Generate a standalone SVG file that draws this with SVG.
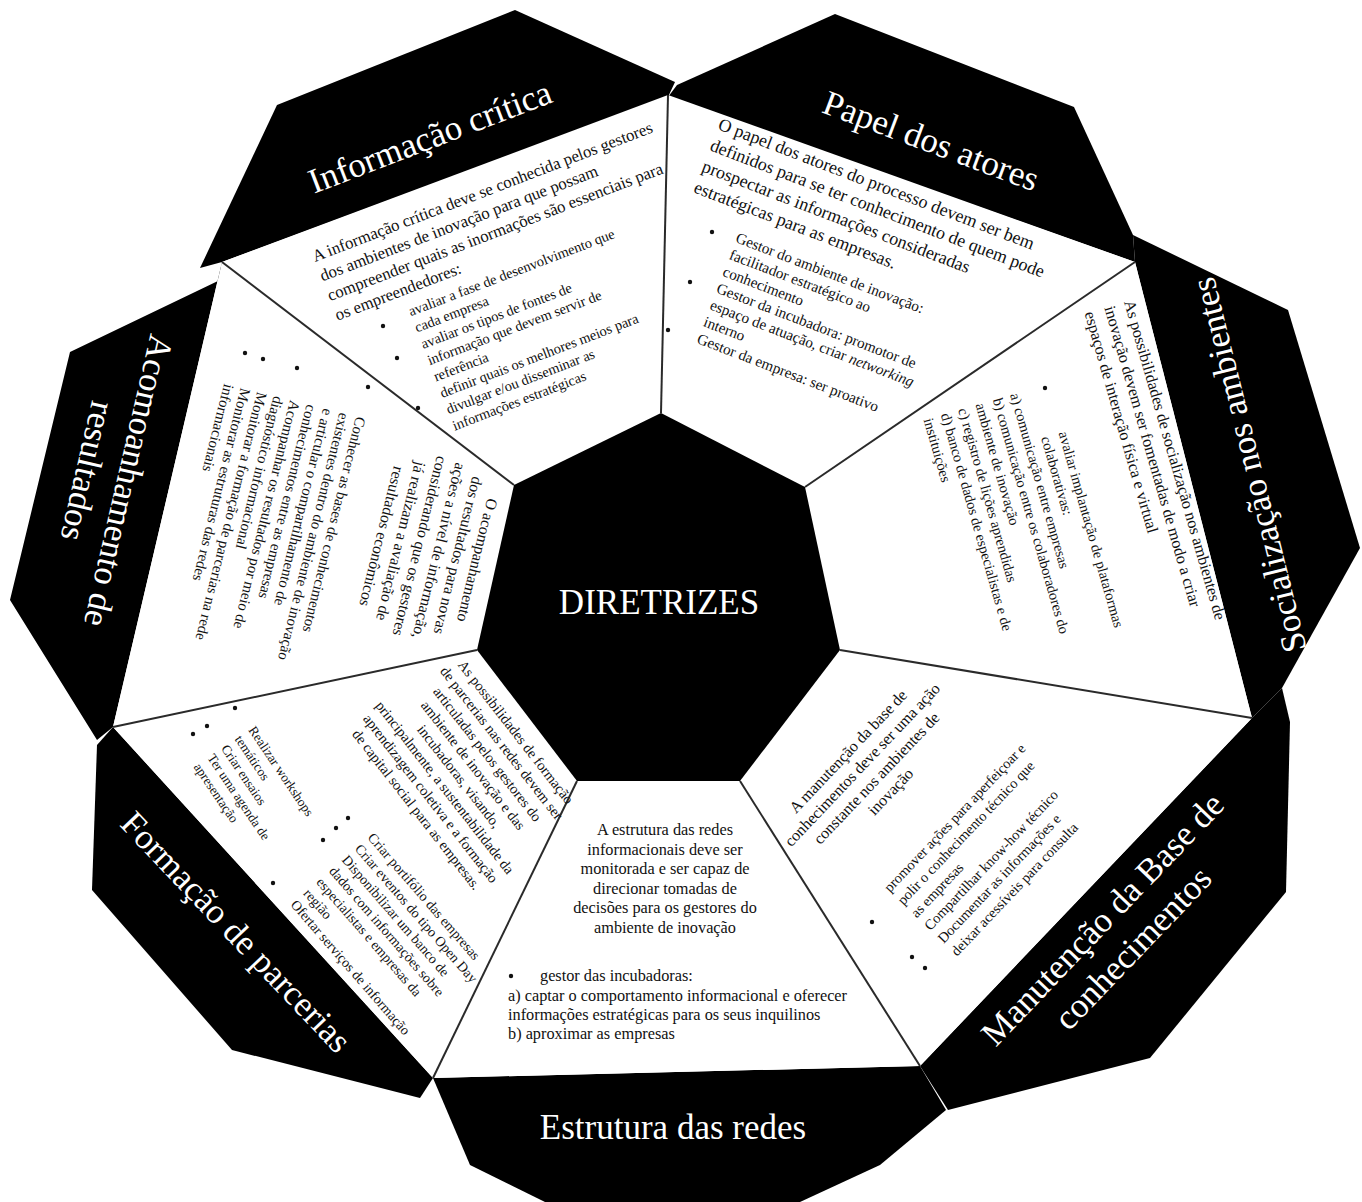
<svg xmlns="http://www.w3.org/2000/svg" width="1362" height="1202" viewBox="0 0 1362 1202">
  <style>
    .blk { fill: #000; }
    .seg { fill: #fff; }
    .div { stroke: #2a2a2a; stroke-width: 2; fill: none; }
    .ttl { font-family: "Liberation Serif", "Times New Roman", serif; fill: #fff; font-size: 35px; text-anchor: middle; dominant-baseline: central; }
    .txt { font-family: "Liberation Serif", "Times New Roman", serif; fill: #111; }
    .mid { text-anchor: middle; }
    .dot { fill: #111; }
  </style>
  <rect width="1362" height="1202" fill="#fff"/>

  <!-- outer black title plates -->
  <g id="plates">
    <polygon class="blk" points="222,262 200,268 277,105 515,10 675,82 668,97"/>
    <polygon class="blk" points="668,97 677,85 835,14 1074,107 1133,235 1135,262"/>
    <polygon class="blk" points="1135,262 1133,235 1288,310 1360,548 1282,688 1252,718"/>
    <polygon class="blk" points="1252,718 1282,688 1290,722 1286,892 1150,1058 948,1110 920,1066"/>
    <polygon class="blk" points="433,1078 920,1066 946,1110 880,1165 800,1202 545,1202 470,1165"/>
    <polygon class="blk" points="113,727 97,745 92,890 232,1050 420,1098 433,1078"/>
    <polygon class="blk" points="222,262 220,280 70,352 10,600 97,740 113,727"/>
  </g>

  <!-- white ring segments -->
  <polygon class="seg" points="668,95 1135,262 1252,718 920,1066 433,1078 113,727 222,262"/>

  <g id="dividers">
    <line class="div" x1="661" y1="413" x2="668" y2="95"/>
    <line class="div" x1="805" y1="487" x2="1135" y2="262"/>
    <line class="div" x1="840" y1="650" x2="1252" y2="718"/>
    <line class="div" x1="740" y1="781" x2="920" y2="1066"/>
    <line class="div" x1="577" y1="781" x2="433" y2="1078"/>
    <line class="div" x1="477" y1="650" x2="113" y2="727"/>
    <line class="div" x1="514" y1="485" x2="222" y2="262"/>
  </g>

  <g id="centre">
    <polygon class="blk" points="661,413 805,487 840,650 740,781 577,781 477,650 514,485"/>
    <text x="659" y="602" class="ttl" font-size="42">DIRETRIZES</text>
  </g>

  <!-- Informação crítica -->
  <g id="informacao-critica">
    <text class="ttl" transform="translate(430,137) rotate(-21)" font-size="34">Informação crítica</text>
    <g class="txt" transform="translate(315,262) rotate(-21)">
      <g font-size="16.8">
        <text x="0" y="0">A informação crítica deve se conhecida pelos gestores</text>
        <text x="0" y="21">dos ambientes de inovação para que possam</text>
        <text x="0" y="42">compreender quais as inormações são essenciais para</text>
        <text x="0" y="63">os empreendedores:</text>
      </g>
      <g font-size="14.4">
        <text x="70" y="85">avaliar a fase de desenvolvimento que</text>
        <text x="70" y="102.5">cada empresa</text>
        <text x="70" y="120">avaliar os tipos de fontes de</text>
        <text x="70" y="137.5">informação que devem servir de</text>
        <text x="70" y="155">referência</text>
        <text x="70" y="172.5">definir quais os melhores meios para</text>
        <text x="70" y="190">divulgar e/ou disseminar as</text>
        <text x="70" y="207.5">informações estratégicas</text>
      </g>
    </g>
    <circle class="dot" cx="383" cy="326" r="2.2"/>
    <circle class="dot" cx="397" cy="358" r="2.2"/>
    <circle class="dot" cx="418" cy="408" r="2.2"/>
  </g>

  <!-- Papel dos atores -->
  <g id="papel-dos-atores">
    <text class="ttl" transform="translate(931,141) rotate(20.5)" font-size="35">Papel dos atores</text>
    <g class="txt" transform="translate(717,129) rotate(21)">
      <g font-size="18">
        <text x="0" y="0">O papel dos atores do processo devem ser bem</text>
        <text x="0" y="22.5">definidos para se ter conhecimento de quem pode</text>
        <text x="0" y="45">prospectar as informações consideradas</text>
        <text x="0" y="67.5">estratégicas para as empresas.</text>
      </g>
      <g font-size="15.2">
        <text x="57" y="99">Gestor do ambiente de inovação:</text>
        <text x="57" y="117">facilitador estratégico ao</text>
        <text x="57" y="135">conhecimento</text>
        <text x="57" y="153">Gestor da incubadora: promotor de</text>
        <text x="57" y="171">espaço de atuação, criar <tspan font-style="italic">networking</tspan></text>
        <text x="57" y="189">interno</text>
        <text x="57" y="207">Gestor da empresa: ser proativo</text>
      </g>
    </g>
    <circle class="dot" cx="712" cy="232" r="2.2"/>
    <circle class="dot" cx="690" cy="282" r="2.2"/>
    <circle class="dot" cx="668" cy="330" r="2.2"/>
  </g>

  <!-- Socialização nos ambientes -->
  <g id="socializacao">
    <text class="ttl" transform="translate(1249,465) rotate(-104)" font-size="34">Socialização nos ambientes</text>
    <g class="txt" font-size="16.2" transform="translate(1124,302) rotate(74)">
      <text x="0" y="0">As possibilidades de socialização nos ambientes de</text>
      <text x="0" y="20.5">inovação devem ser fomentadas de modo a criar</text>
      <text x="0" y="41">espaços de interação física e virtual</text>
    </g>
    <g class="txt" font-size="14.5" transform="translate(1122,292) rotate(74)">
      <text x="118" y="100">avaliar implantação de plataformas</text>
      <text x="118" y="118">colaborativas:</text>
      <text x="68" y="136">a) comunicação entre empresas</text>
      <text x="68" y="154">b) comunicação entre os colaboradores do</text>
      <text x="68" y="172">ambiente de inovação</text>
      <text x="68" y="190">c) registro de lições aprendidas</text>
      <text x="68" y="208">d) banco de dados de especialistas e de</text>
      <text x="68" y="226">instituições</text>
    </g>
    <circle class="dot" cx="1045" cy="388" r="2.2"/>
  </g>

  <!-- Manutenção da Base de conhecimentos -->
  <g id="manutencao">
    <g transform="translate(1117,933) rotate(-46.3)">
      <text class="ttl" x="0" y="-20" font-size="34">Manutenção da Base de</text>
      <text class="ttl" x="0" y="22" font-size="34">conhecimentos</text>
    </g>
    <g class="txt mid" font-size="16" transform="translate(852,755) rotate(-46.5)">
      <text x="0" y="0">A manutenção da base de</text>
      <text x="0" y="19.5">conhecimentos deve ser uma ação</text>
      <text x="0" y="39">constante nos ambientes de</text>
      <text x="0" y="58.5">inovação</text>
    </g>
    <g class="txt" font-size="14.4" transform="translate(890,893) rotate(-46.5)">
      <text x="0" y="0">promover ações para aperfeiçoar e</text>
      <text x="0" y="18.5">polir o conhecimento técnico que</text>
      <text x="0" y="37">as empresas</text>
      <text x="0" y="55.5">Compartilhar know-how técnico</text>
      <text x="0" y="74">Documentar as informações e</text>
      <text x="0" y="92.5">deixar acessíveis para consulta</text>
    </g>
    <circle class="dot" cx="872" cy="922" r="2.2"/>
    <circle class="dot" cx="912" cy="957" r="2.2"/>
    <circle class="dot" cx="925" cy="968" r="2.2"/>
  </g>

  <!-- Estrutura das redes -->
  <g id="estrutura">
    <text class="ttl" x="673" y="1127" font-size="35">Estrutura das redes</text>
    <g class="txt mid" font-size="16.3">
      <text x="665" y="835">A estrutura das redes</text>
      <text x="665" y="854.5">informacionais deve ser</text>
      <text x="665" y="874">monitorada e ser capaz de</text>
      <text x="665" y="893.5">direcionar tomadas de</text>
      <text x="665" y="913">decisões para os gestores do</text>
      <text x="665" y="932.5">ambiente de inovação</text>
    </g>
    <circle class="dot" cx="511" cy="976" r="2.2"/>
    <g class="txt" font-size="16.3">
      <text x="540" y="981">gestor das incubadoras:</text>
      <text x="508" y="1000.5">a) captar o comportamento informacional e oferecer</text>
      <text x="508" y="1019.5">informações estratégicas para os seus inquilinos</text>
      <text x="508" y="1038.5">b) aproximar as empresas</text>
    </g>
  </g>

  <!-- Formação de parcerias -->
  <g id="formacao">
    <text class="ttl" transform="translate(236,932) rotate(46.5)" font-size="35">Formação de parcerias</text>
    <g class="txt mid" font-size="14.5" transform="translate(512,735) rotate(52)">
      <text x="0" y="0">As possibilidades de formação</text>
      <text x="0" y="18">de parcerias nas redes devem ser</text>
      <text x="0" y="36">articuladas pelos gestores do</text>
      <text x="0" y="54">ambiente de inovação e das</text>
      <text x="0" y="72">incubadoras, visando,</text>
      <text x="0" y="90">principalmente, a sustentabilidade da</text>
      <text x="0" y="108">aprendizagem coletiva e a formação</text>
      <text x="0" y="126">de capital social para as empresas.</text>
    </g>
    <g class="txt" font-size="13.3" transform="translate(248,730) rotate(56)">
      <text x="0" y="0">Realizar workshops</text>
      <text x="0" y="16.5">temáticos</text>
      <text x="0" y="33">Criar ensaios</text>
      <text x="0" y="49.5">Ter uma agenda de</text>
      <text x="0" y="66">apresentação</text>
    </g>
    <g class="txt" font-size="14" transform="translate(367,838) rotate(49)">
      <text x="0" y="0">Criar portifólio das empresas</text>
      <text x="0" y="17">Criar eventos do tipo Open Day</text>
      <text x="0" y="34">Disponibilizar um banco de</text>
      <text x="0" y="51">dados com informações sobre</text>
      <text x="0" y="68">especialistas e empresas da</text>
      <text x="0" y="85">região</text>
      <text x="0" y="102">Ofertar serviços de informação</text>
    </g>
    <circle class="dot" cx="235" cy="708" r="2.2"/>
    <circle class="dot" cx="207" cy="726" r="2.2"/>
    <circle class="dot" cx="193" cy="734" r="2.2"/>
    <circle class="dot" cx="348" cy="818" r="2.2"/>
    <circle class="dot" cx="336" cy="828" r="2.2"/>
    <circle class="dot" cx="323" cy="840" r="2.2"/>
    <circle class="dot" cx="273" cy="883" r="2.2"/>
  </g>

  <!-- Acompanhamento de resultados -->
  <g id="acompanhamento">
    <g transform="translate(108,476) rotate(103)">
      <text class="ttl" x="0" y="-21" font-size="35">Acomoanhamento de</text>
      <text class="ttl" x="0" y="21" font-size="35">resultados</text>
    </g>
    <g class="txt mid" font-size="15.8" transform="translate(476,560) rotate(104)">
      <text x="0" y="4">O acompanhamento</text>
      <text x="0" y="23.7">dos resultados para novas</text>
      <text x="0" y="43.4">ações a nível de informação,</text>
      <text x="0" y="63.1">considerando que os gestores</text>
      <text x="0" y="82.8">já realizam a avaliação de</text>
      <text x="0" y="102.5">resultados econômicos</text>
    </g>
    <g class="txt" font-size="15" transform="translate(360,417) rotate(104)">
      <text x="0" y="4">Conhecer as bases de conhecimentos</text>
      <text x="0" y="21">existentes dentro do ambiente de inovação</text>
      <text x="0" y="38">e articular o compartilhamento de</text>
      <text x="0" y="55">conhecimentos entre as empresas</text>
      <text x="0" y="72">Acompanhar os resultados por meio de</text>
      <text x="0" y="89">diagnóstico informacional</text>
      <text x="0" y="106">Monitorar a formação de parcerias na rede</text>
      <text x="0" y="123">Monitorar as estruturas das redes</text>
      <text x="0" y="140">informacionais</text>
    </g>
    <circle class="dot" cx="245" cy="353" r="2.2"/>
    <circle class="dot" cx="263" cy="359" r="2.2"/>
    <circle class="dot" cx="297" cy="368" r="2.2"/>
    <circle class="dot" cx="368" cy="387" r="2.2"/>
  </g>
</svg>
